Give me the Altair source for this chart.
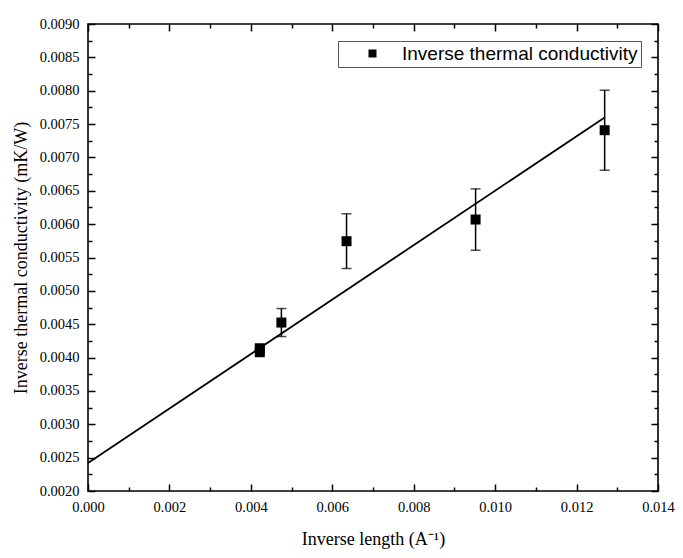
import altair as alt
import pandas as pd

# ---- data ----
x_vals = [0.00422, 0.00422, 0.00475, 0.00635, 0.00952, 0.01269]
y_vals = [0.00414, 0.00408, 0.004525, 0.005744, 0.006069, 0.007408]
y_err = [0.00002, 0.00002, 0.00021, 0.00041, 0.00046, 0.00060]
fit_x = [0.0, 0.01269]
fit_y = [0.00242, 0.00760]
series_name = "Inverse thermal conductivity"

x_major = [0.000, 0.002, 0.004, 0.006, 0.008, 0.010, 0.012, 0.014]
y_major = [0.0020, 0.0025, 0.0030, 0.0035, 0.0040, 0.0045, 0.0050, 0.0055,
           0.0060, 0.0065, 0.0070, 0.0075, 0.0080, 0.0085, 0.0090]
x_minor = [0.000, 0.001, 0.002, 0.003, 0.004, 0.005, 0.006, 0.007,
           0.008, 0.009, 0.010, 0.011, 0.012, 0.013, 0.014]
y_minor = [round(0.002 + i * 0.00025, 5) for i in range(29)]

W, H = 570, 467

pts = pd.DataFrame({
    "x": x_vals,
    "y": y_vals,
    "lo": [v - e for v, e in zip(y_vals, y_err)],
    "hi": [v + e for v, e in zip(y_vals, y_err)],
    "series": [series_name] * len(x_vals),
})
fit = pd.DataFrame({"x": fit_x, "y": fit_y})

xs = alt.Scale(domain=[0, 0.014], nice=False, zero=False)
ys = alt.Scale(domain=[0.002, 0.009], nice=False, zero=False)

x_tick_size = {"condition": {"test": "round(datum.value * 1000) % 2 === 0", "value": 7}, "value": 4}
y_tick_size = {"condition": {"test": "round(datum.value * 4000) % 2 === 0", "value": 7}, "value": 4}


def inner_axis(orient, offset, values, size):
    return alt.Axis(orient=orient, offset=offset, values=values, labels=False,
                    domain=False, title="", grid=False, ticks=True,
                    tickSize=size, tickWidth=1.5, tickColor="black")


x_main = alt.Axis(orient="bottom", values=x_major, format=".3f", ticks=False,
                  domain=False, grid=False, labelPadding=9, labelFlush=False,
                  title="Inverse length (A\u207B\u00B9)", titlePadding=17)
y_main = alt.Axis(orient="left", values=y_major, format=".4f", ticks=False,
                  domain=False, grid=False, labelPadding=9, labelFlush=False,
                  title="Inverse thermal conductivity (mK/W)", titlePadding=9)

line = alt.Chart(fit).mark_line(color="black", strokeWidth=1.8).encode(
    x=alt.X("x:Q", scale=xs, axis=x_main),
    y=alt.Y("y:Q", scale=ys, axis=y_main),
)

err = alt.Chart(pts).mark_rule(color="black", strokeWidth=1.5).encode(
    x=alt.X("x:Q", scale=xs, axis=inner_axis("bottom", -H, x_minor, x_tick_size)),
    y=alt.Y("lo:Q", scale=ys, axis=inner_axis("left", -W, y_minor, y_tick_size)),
    y2="hi:Q",
)

cap_lo = alt.Chart(pts).mark_tick(color="black", orient="horizontal", size=10, thickness=1.5).encode(
    x=alt.X("x:Q", scale=xs, axis=None),
    y=alt.Y("lo:Q", scale=ys, axis=None),
)
cap_hi = alt.Chart(pts).mark_tick(color="black", orient="horizontal", size=10, thickness=1.5).encode(
    x=alt.X("x:Q", scale=xs, axis=None),
    y=alt.Y("hi:Q", scale=ys, axis=None),
)

points = alt.Chart(pts).mark_point(filled=True, color="black", size=100, opacity=1).encode(
    x=alt.X("x:Q", scale=xs, axis=inner_axis("top", -H, x_minor, x_tick_size)),
    y=alt.Y("y:Q", scale=ys, axis=inner_axis("right", -W, y_minor, y_tick_size)),
    shape=alt.Shape(
        "series:N",
        scale=alt.Scale(range=["square"]),
        legend=alt.Legend(
            title=None, orient="none", legendX=250, legendY=17,
            symbolType="square", symbolSize=64, symbolFillColor="black",
            symbolStrokeWidth=0, symbolOffset=22, labelOffset=20,
            labelFont="Liberation Sans", labelFontSize=19, labelColor="black",
            labelLimit=400, padding=3, strokeColor="#555555", fillColor="white",
        ),
    ),
)

chart = alt.layer(line, err, cap_lo, cap_hi, points).resolve_axis(
    x="independent", y="independent"
).properties(
    width=W, height=H,
    autosize=alt.AutoSizeParams(type="none"),
    padding={"left": 80, "top": 16, "right": 17, "bottom": 59},
    background="white",
).configure_view(
    stroke="black", strokeWidth=1.6
).configure_axis(
    labelFont="Liberation Serif", labelFontSize=14.5, labelColor="black",
    titleFont="Liberation Serif", titleFontSize=18, titleFontWeight="normal",
    titleColor="black",
)

chart.save("out.html", embed_options={"renderer": "svg", "actions": False})
